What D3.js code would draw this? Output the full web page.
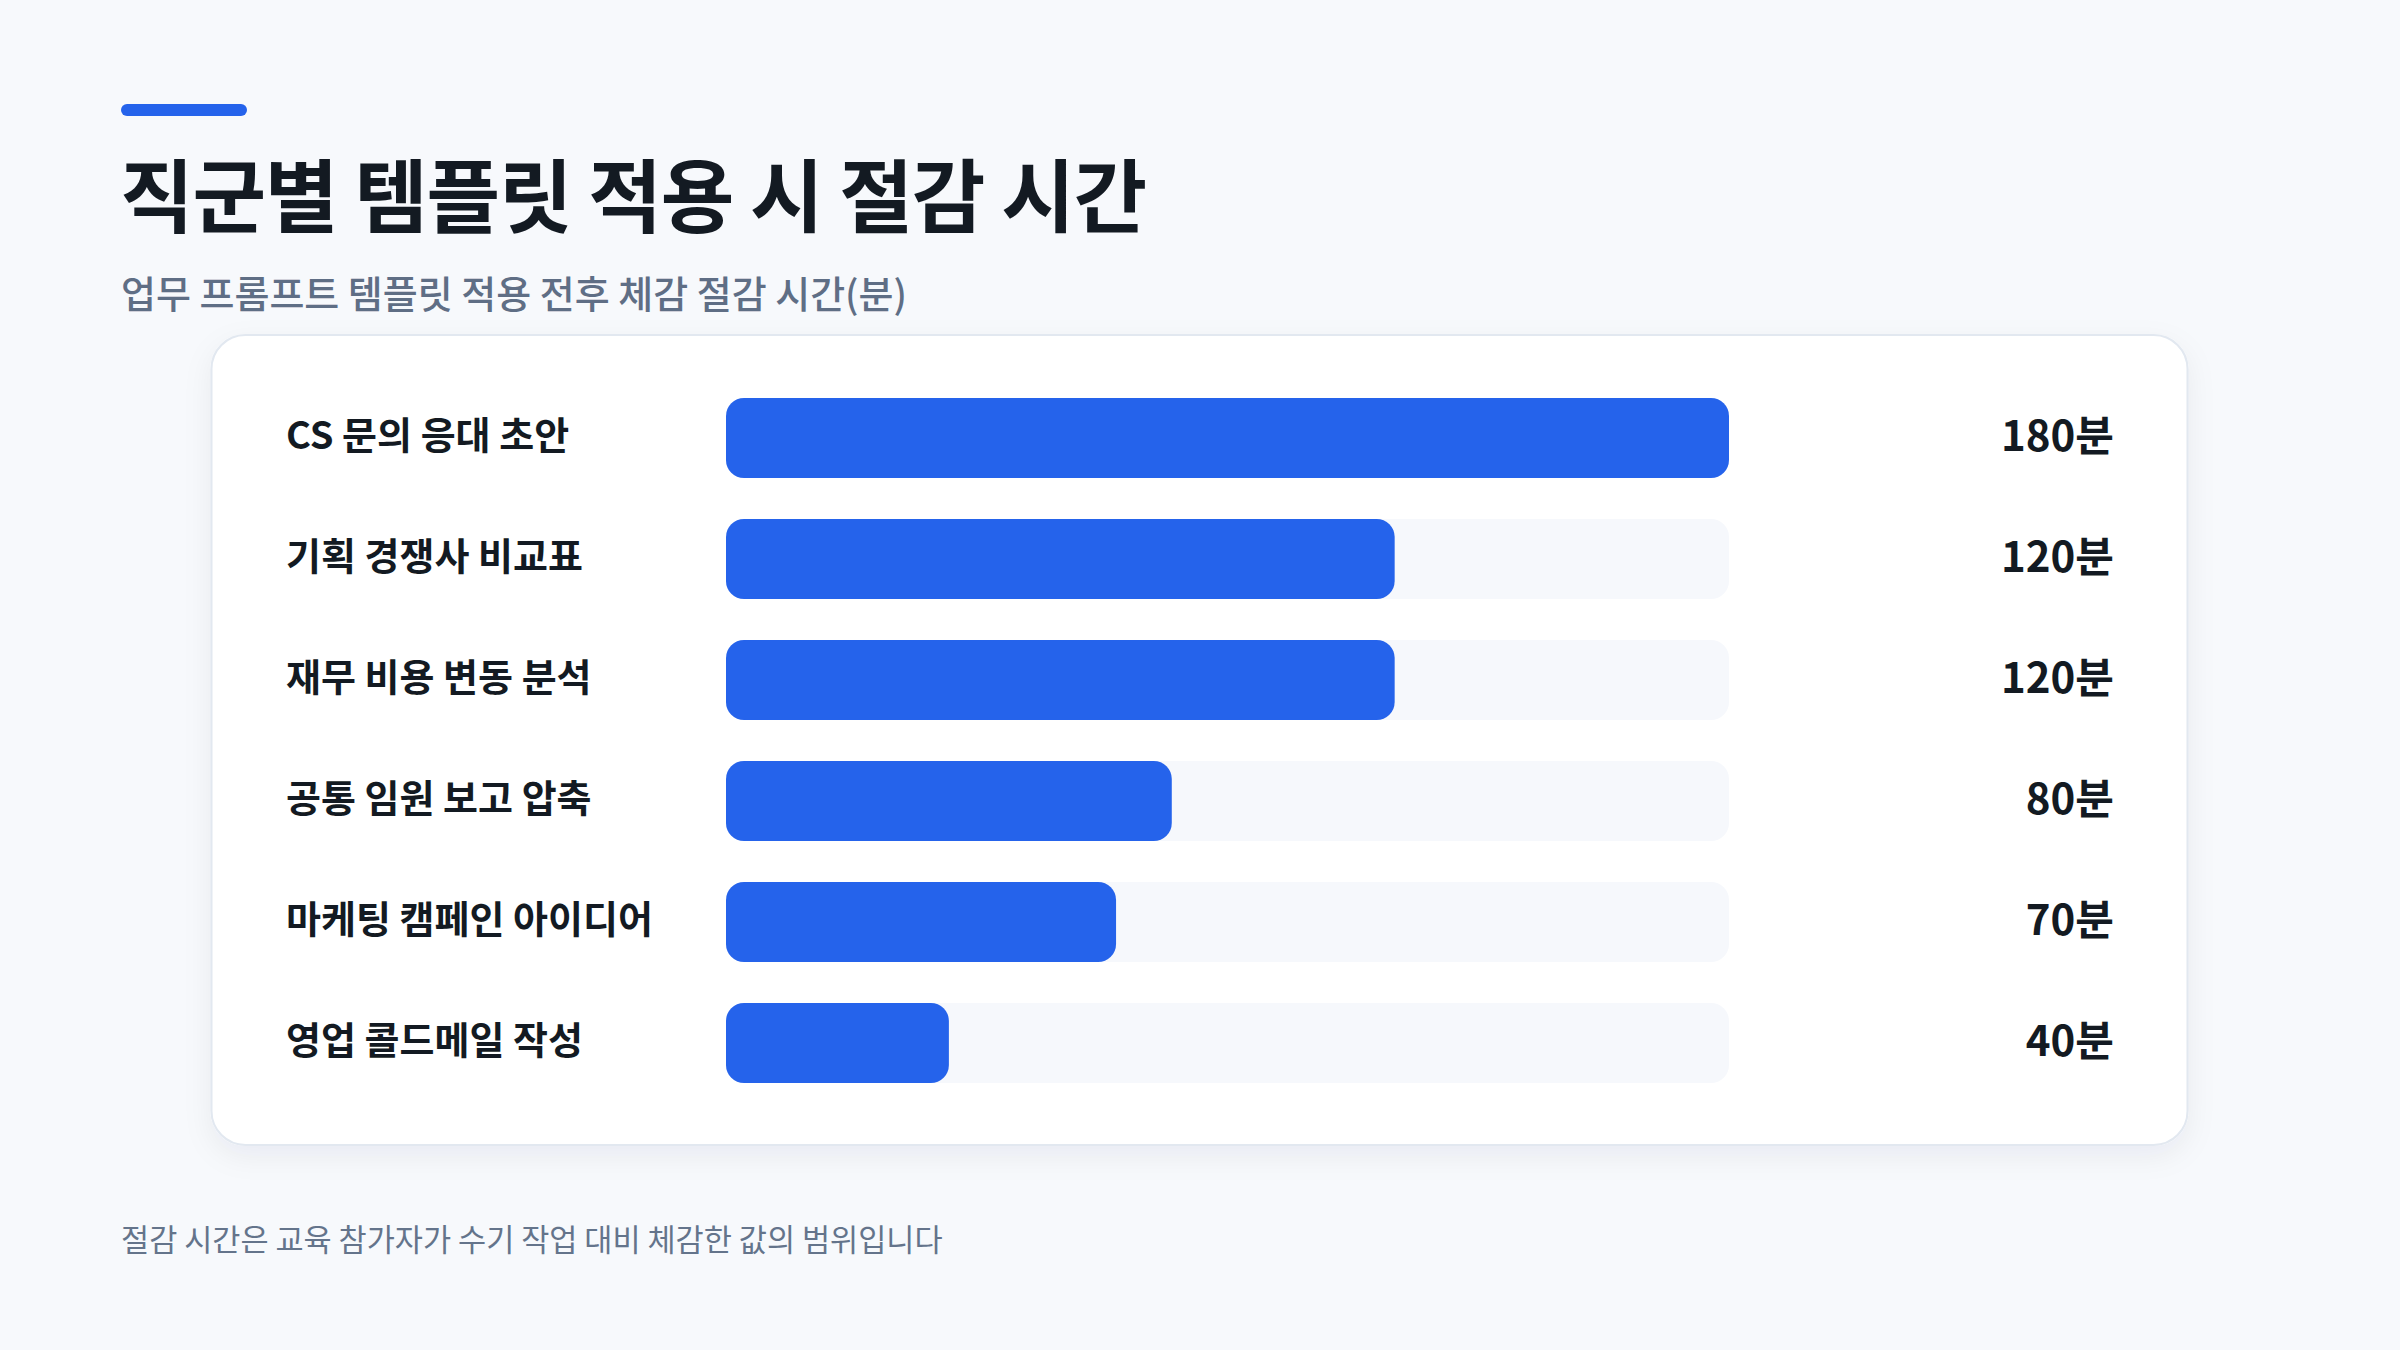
<!DOCTYPE html>
<html>
<head>
<meta http-equiv="content-type" content="text/html; charset=UTF8">
<script src="https://cdn.jsdelivr.net/npm/d3@7/dist/d3.min.js"></script>
<style>
body {
	margin: 0;
	background: #f7f9fc;
}
svg {
	display: block;
	font-family: "Noto Sans CJK KR", "Noto Sans", sans-serif;
}
</style>
</head>
<body>
<svg class="chart" width="2400" height="1350"></svg>
</body>
<script>
var categories = ["CS 문의 응대 초안", "기획 경쟁사 비교표", "재무 비용 변동 분석", "공통 임원 보고 압축", "마케팅 캠페인 아이디어", "영업 콜드메일 작성"];
var minutes = [180, 120, 120, 80, 70, 40];
var unit = "분";

var title = "직군별 템플릿 적용 시 절감 시간",
	subtitle = "업무 프롬프트 템플릿 적용 전후 체감 절감 시간(분)",
	footnote = "절감 시간은 교육 참가자가 수기 작업 대비 체감한 값의 범위입니다";

var rows = categories.map(function(c, i) { return {name: c, value: minutes[i]}; });

var svg = d3.select(".chart");

var defs = svg.append("defs");
var shadow = defs.append("filter")
	.attr("id", "cardShadow")
	.attr("x", "-10%").attr("y", "-10%")
	.attr("width", "120%").attr("height", "130%");
shadow.append("feDropShadow")
	.attr("dx", 0)
	.attr("dy", 10)
	.attr("stdDeviation", 14)
	.attr("flood-color", "#1e293b")
	.attr("flood-opacity", 0.06);

// header
svg.append("rect")
	.attr("x", 121).attr("y", 104)
	.attr("width", 126).attr("height", 12)
	.attr("rx", 6)
	.attr("fill", "#2563eb");

svg.append("text")
	.attr("x", 120).attr("y", 226)
	.attr("font-size", 80)
	.attr("font-weight", 700)
	.attr("letter-spacing", "-0.015em")
	.attr("fill", "#131a22")
	.text(title);

svg.append("text")
	.attr("x", 121).attr("y", 308)
	.attr("font-size", 38)
	.attr("font-weight", 500)
	.attr("fill", "#5f6e85")
	.text(subtitle);

// card
svg.append("rect")
	.attr("x", 211.5).attr("y", 335)
	.attr("width", 1976).attr("height", 810)
	.attr("rx", 34)
	.attr("fill", "#ffffff")
	.attr("stroke", "#e2e8f0")
	.attr("stroke-width", 2)
	.attr("filter", "url(#cardShadow)");

var x = d3.scaleLinear()
	.domain([0, 180])
	.range([726, 1729]);

var y = d3.scaleBand()
	.domain(categories)
	.range([377.5, 377.5 + 726])
	.paddingInner(41 / 121)
	.paddingOuter(41 / 242);

var row = svg.selectAll("g.row")
	.data(rows)
	.enter()
	.append("g")
	.attr("class", "row");

row.append("rect")
	.attr("x", x(0))
	.attr("y", function(d) { return y(d.name); })
	.attr("width", x(180) - x(0))
	.attr("height", y.bandwidth())
	.attr("rx", 18)
	.attr("fill", "#f6f8fc");

row.append("rect")
	.attr("x", x(0))
	.attr("y", function(d) { return y(d.name); })
	.attr("width", function(d) { return x(d.value) - x(0); })
	.attr("height", y.bandwidth())
	.attr("rx", 18)
	.attr("fill", "#2563eb");

row.append("text")
	.attr("x", 286)
	.attr("y", function(d) { return y(d.name) + y.bandwidth() / 2 - 6; })
	.attr("dominant-baseline", "central")
	.attr("font-size", 38)
	.attr("font-weight", 700)
	.attr("fill", "#131a22")
	.text(function(d) { return d.name; });

row.append("text")
	.attr("x", 2114)
	.attr("y", function(d) { return y(d.name) + y.bandwidth() / 2 - 6; })
	.attr("dominant-baseline", "central")
	.attr("text-anchor", "end")
	.attr("font-size", 42)
	.attr("font-weight", 700)
	.attr("fill", "#131a22")
	.text(function(d) { return d.value + unit; });

svg.append("text")
	.attr("x", 121).attr("y", 1251)
	.attr("font-size", 30.6)
	.attr("fill", "#64748b")
	.text(footnote);
</script>
</html>
